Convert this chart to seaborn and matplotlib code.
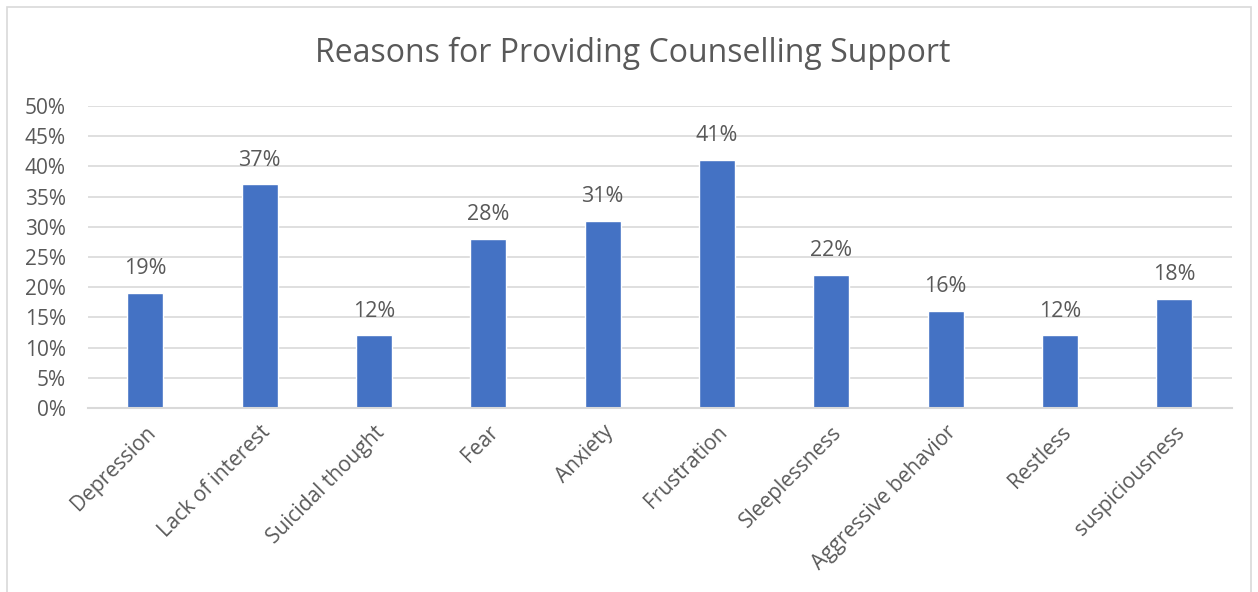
"""
Bar chart of reasons for providing counselling support (Excel-style look).
"""

import matplotlib
matplotlib.use("Agg")
import matplotlib.pyplot as plt
import seaborn as sns
import pandas as pd
from matplotlib.ticker import MultipleLocator, PercentFormatter

# Chart data
reasons = ["Depression", "Lack of interest", "Suicidal thought", "Fear", "Anxiety",
           "Frustration", "Sleeplessness", "Aggressive behavior", "Restless",
           "suspiciousness"]
percent = [19, 37, 12, 28, 31, 41, 22, 16, 12, 18]

BAR_COLOR = "#4472C4"
TEXT_COLOR = "#595959"
GRID_COLOR = "#D9D9D9"


def main():
    sns.set_theme(style="white")
    plt.rcParams["font.family"] = ["Open Sans", "DejaVu Sans"]

    df = pd.DataFrame({"reason": reasons, "percent": percent})

    fig = plt.figure(figsize=(12.58, 5.92), dpi=100)
    ax = fig.add_axes([0.07, 0.311, 0.909, 0.51])

    sns.barplot(data=df, x="reason", y="percent", color=BAR_COLOR,
                width=0.315, saturation=1, ax=ax)

    ax.set_ylim(0, 50)
    ax.set_xlim(-0.5, len(reasons) - 0.5)
    ax.yaxis.set_major_locator(MultipleLocator(5))
    ax.yaxis.set_major_formatter(PercentFormatter(decimals=0))
    ax.grid(axis="y", color=GRID_COLOR, linewidth=1.2)
    ax.set_axisbelow(True)

    for side in ["top", "right", "left"]:
        ax.spines[side].set_visible(False)
    ax.spines["bottom"].set_color(GRID_COLOR)
    ax.spines["bottom"].set_linewidth(1.5)

    ax.set_xlabel("")
    ax.set_ylabel("")
    ax.tick_params(axis="y", colors=TEXT_COLOR, labelsize=15, length=0, pad=16)
    ax.tick_params(axis="x", colors=TEXT_COLOR, labelsize=15, length=0, pad=10)
    plt.setp(ax.get_xticklabels(), rotation=45, ha="right", rotation_mode="anchor")
    for lbl in ax.get_yticklabels():
        lbl.set_horizontalalignment("right")

    # data labels above the bars
    for i, v in enumerate(percent):
        ax.annotate(f"{v}%", (i, v), xytext=(0, 10), textcoords="offset points",
                    ha="center", va="bottom", fontsize=15.5, color=TEXT_COLOR)

    fig.text(0.503, 0.910, "Reasons for Providing Counselling Support",
             ha="center", va="center", fontsize=23, color=TEXT_COLOR)

    # light chart border like the Excel frame
    border = plt.Rectangle((7 / 1258, -0.1), 1 - 14 / 1258, 1.1 - 7 / 592,
                           transform=fig.transFigure, fill=False,
                           edgecolor=GRID_COLOR, linewidth=1.2)
    fig.patches.append(border)

    fig.savefig("out.png", dpi=100)
    plt.close(fig)


if __name__ == "__main__":
    main()
